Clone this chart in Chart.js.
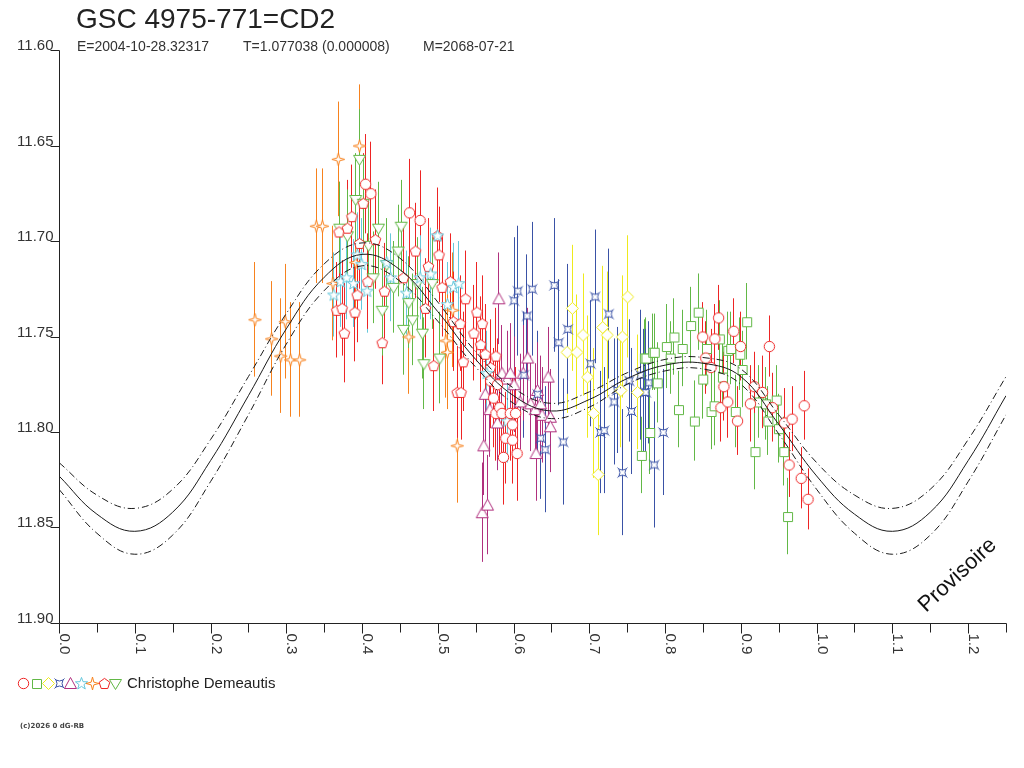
<!DOCTYPE html>
<html>
<head>
<meta charset="utf-8">
<title>GSC 4975-771=CD2</title>
<script src="https://cdn.jsdelivr.net/npm/chart.js@4.4.1/dist/chart.umd.min.js"></script>
<style>
  html, body { margin: 0; padding: 0; background: #fff; }
  #wrap { position: relative; width: 1024px; height: 768px; }
</style>
</head>
<body>
<div id="wrap"><canvas id="lc" width="1024" height="768"></canvas></div>
<script>
// --- textes ---
const titre = 'GSC 4975-771=CD2';
const sousTitre = ['E=2004-10-28.32317', 'T=1.077038 (0.000008)', 'M=2068-07-21'];
const observateur = 'Christophe Demeautis';
const copyright = '(c)2026 0 dG-RB';

// --- axes ---
const xTicks = [0, 0.05, 0.1, 0.15, 0.2, 0.25, 0.3, 0.35, 0.4, 0.45, 0.5, 0.55, 0.6,
                0.65, 0.7, 0.75, 0.8, 0.85, 0.9, 0.95, 1.0, 1.05, 1.1, 1.15, 1.2, 1.25];
const xLabels = ['0.0', '0.1', '0.2', '0.3', '0.4', '0.5', '0.6', '0.7', '0.8', '0.9', '1.0', '1.1', '1.2'];
const yTicks = [11.60, 11.65, 11.70, 11.75, 11.80, 11.85, 11.90];
const yLabels = ['11.60', '11.65', '11.70', '11.75', '11.80', '11.85', '11.90'];

// --- courbe ajustée (phase, magnitude) + enveloppe ---
const curvePhase = [0, 0.05, 0.1, 0.15, 0.2, 0.25, 0.3, 0.35, 0.4, 0.45, 0.5, 0.55, 0.6,
                    0.65, 0.7, 0.75, 0.8, 0.85, 0.9, 0.95, 1.0, 1.05, 1.1, 1.15, 1.2, 1.25];
const curveMag   = [11.823, 11.843, 11.852, 11.842, 11.815, 11.781, 11.746, 11.719, 11.707, 11.715, 11.737, 11.762, 11.781,
                    11.789, 11.783, 11.772, 11.765, 11.764, 11.771, 11.796, 11.823, 11.843, 11.852, 11.842, 11.815, 11.781];
const curveHaut  = [11.816, 11.833, 11.840, 11.830, 11.804, 11.771, 11.738, 11.712, 11.701, 11.709, 11.732, 11.758, 11.777,
                    11.785, 11.779, 11.769, 11.762, 11.761, 11.767, 11.791, 11.816, 11.833, 11.840, 11.830, 11.804, 11.771];
const curveBas   = [11.830, 11.853, 11.864, 11.854, 11.826, 11.791, 11.754, 11.726, 11.713, 11.721, 11.742, 11.766, 11.785,
                    11.793, 11.787, 11.775, 11.768, 11.767, 11.775, 11.801, 11.830, 11.853, 11.864, 11.854, 11.826, 11.791];

// --- mesures [phase, magnitude, erreur] ---
const redCircles = [
  [0.404, 11.670, 0.026], [0.411, 11.675, 0.027], [0.462, 11.685, 0.028], [0.476, 11.689, 0.026],
  [0.569, 11.773, 0.025], [0.573, 11.782, 0.026], [0.576, 11.790, 0.025], [0.578, 11.775, 0.024],
  [0.581, 11.787, 0.025], [0.584, 11.790, 0.024], [0.586, 11.813, 0.025], [0.589, 11.803, 0.024],
  [0.595, 11.790, 0.025], [0.598, 11.804, 0.023], [0.598, 11.796, 0.025], [0.602, 11.790, 0.024],
  [0.604, 11.811, 0.025],
  [0.849, 11.750, 0.018], [0.853, 11.761, 0.019], [0.860, 11.766, 0.020], [0.865, 11.751, 0.018],
  [0.870, 11.740, 0.017], [0.873, 11.787, 0.018], [0.877, 11.776, 0.018], [0.882, 11.784, 0.019],
  [0.890, 11.747, 0.017], [0.895, 11.794, 0.018], [0.899, 11.755, 0.018], [0.912, 11.785, 0.020],
  [0.917, 11.776, 0.018], [0.928, 11.779, 0.019], [0.937, 11.755, 0.016], [0.941, 11.787, 0.018],
  [0.957, 11.795, 0.018], [0.963, 11.817, 0.017], [0.967, 11.793, 0.017], [0.979, 11.824, 0.016],
  [0.983, 11.786, 0.018], [0.988, 11.835, 0.016]
];
const greenSquares = [
  [0.768, 11.812, 0.020], [0.772, 11.761, 0.020], [0.774, 11.761, 0.021], [0.779, 11.800, 0.022],
  [0.783, 11.758, 0.020], [0.785, 11.758, 0.020], [0.789, 11.774, 0.021], [0.801, 11.755, 0.022],
  [0.806, 11.761, 0.019], [0.811, 11.750, 0.020], [0.817, 11.788, 0.020], [0.822, 11.756, 0.020],
  [0.833, 11.744, 0.020], [0.838, 11.794, 0.021], [0.843, 11.737, 0.020], [0.849, 11.772, 0.021],
  [0.854, 11.756, 0.020], [0.860, 11.789, 0.020], [0.864, 11.786, 0.021], [0.871, 11.751, 0.020],
  [0.875, 11.771, 0.019], [0.882, 11.757, 0.020], [0.886, 11.756, 0.019], [0.892, 11.789, 0.019],
  [0.898, 11.759, 0.019], [0.901, 11.767, 0.020], [0.907, 11.742, 0.020], [0.918, 11.810, 0.020],
  [0.923, 11.784, 0.019], [0.932, 11.785, 0.019], [0.935, 11.794, 0.018], [0.946, 11.783, 0.018],
  [0.949, 11.798, 0.018], [0.956, 11.810, 0.018], [0.961, 11.844, 0.020]
];
const yellowDiamonds = [
  [0.670, 11.758, 0.032], [0.677, 11.735, 0.033], [0.683, 11.758, 0.030], [0.691, 11.749, 0.032],
  [0.697, 11.771, 0.032], [0.705, 11.790, 0.034], [0.711, 11.822, 0.032], [0.717, 11.745, 0.032],
  [0.723, 11.749, 0.033], [0.741, 11.778, 0.030], [0.743, 11.750, 0.032], [0.750, 11.729, 0.032],
  [0.763, 11.779, 0.030]
];
const blueStars = [
  [0.600, 11.731, 0.033], [0.605, 11.726, 0.034], [0.613, 11.770, 0.033], [0.617, 11.739, 0.032],
  [0.624, 11.725, 0.035], [0.631, 11.780, 0.033], [0.635, 11.803, 0.032], [0.641, 11.809, 0.033],
  [0.653, 11.723, 0.035], [0.659, 11.753, 0.033], [0.665, 11.805, 0.033], [0.671, 11.746, 0.034],
  [0.701, 11.764, 0.033], [0.707, 11.729, 0.035], [0.714, 11.800, 0.032], [0.719, 11.799, 0.033],
  [0.725, 11.738, 0.034], [0.732, 11.784, 0.033], [0.736, 11.778, 0.033], [0.743, 11.821, 0.033],
  [0.752, 11.773, 0.032], [0.755, 11.789, 0.033], [0.767, 11.770, 0.034], [0.771, 11.779, 0.033],
  [0.774, 11.779, 0.033], [0.778, 11.774, 0.032], [0.785, 11.817, 0.033], [0.797, 11.800, 0.033]
];
const purpleTriangles = [
  [0.558, 11.842, 0.026], [0.560, 11.807, 0.026], [0.562, 11.780, 0.025], [0.565, 11.838, 0.026],
  [0.568, 11.788, 0.025], [0.578, 11.795, 0.025], [0.580, 11.730, 0.024], [0.584, 11.769, 0.025],
  [0.591, 11.772, 0.025], [0.595, 11.769, 0.026], [0.600, 11.775, 0.025], [0.608, 11.784, 0.025],
  [0.612, 11.769, 0.025], [0.618, 11.761, 0.026], [0.622, 11.785, 0.025], [0.628, 11.788, 0.024],
  [0.629, 11.811, 0.025], [0.631, 11.778, 0.025], [0.635, 11.785, 0.025], [0.637, 11.791, 0.025],
  [0.645, 11.771, 0.026], [0.648, 11.792, 0.025], [0.648, 11.797, 0.024]
];
const cyanStars = [
  [0.362, 11.728, 0.022], [0.371, 11.721, 0.024], [0.379, 11.719, 0.022], [0.388, 11.722, 0.023],
  [0.393, 11.707, 0.022], [0.399, 11.712, 0.024], [0.406, 11.726, 0.022], [0.432, 11.711, 0.022],
  [0.437, 11.719, 0.023], [0.458, 11.727, 0.022], [0.476, 11.719, 0.022], [0.490, 11.717, 0.024],
  [0.499, 11.697, 0.022], [0.512, 11.733, 0.022], [0.520, 11.724, 0.023], [0.527, 11.722, 0.022],
  [0.564, 11.769, 0.022], [0.591, 11.794, 0.022]
];
const orangeStars = [
  [0.258, 11.741, 0.030], [0.280, 11.751, 0.030], [0.292, 11.760, 0.030], [0.298, 11.742, 0.030],
  [0.305, 11.762, 0.030], [0.317, 11.762, 0.030], [0.339, 11.692, 0.030], [0.347, 11.692, 0.030],
  [0.361, 11.722, 0.030], [0.368, 11.657, 0.030], [0.391, 11.711, 0.030], [0.396, 11.650, 0.032],
  [0.461, 11.750, 0.030], [0.510, 11.752, 0.030], [0.512, 11.758, 0.030], [0.519, 11.736, 0.030],
  [0.525, 11.807, 0.030]
];
const redPentagons = [
  [0.366, 11.736, 0.025], [0.369, 11.695, 0.026], [0.373, 11.735, 0.025], [0.376, 11.748, 0.026],
  [0.380, 11.693, 0.025], [0.386, 11.687, 0.027], [0.390, 11.737, 0.026], [0.393, 11.728, 0.025],
  [0.396, 11.701, 0.024], [0.401, 11.680, 0.026], [0.407, 11.721, 0.025], [0.417, 11.699, 0.026],
  [0.426, 11.753, 0.022], [0.429, 11.726, 0.025], [0.454, 11.719, 0.026], [0.470, 11.705, 0.025],
  [0.483, 11.735, 0.026], [0.487, 11.713, 0.025], [0.494, 11.765, 0.024], [0.499, 11.697, 0.025],
  [0.501, 11.707, 0.025], [0.505, 11.724, 0.026], [0.516, 11.721, 0.025], [0.520, 11.742, 0.026],
  [0.525, 11.779, 0.024], [0.529, 11.743, 0.025], [0.530, 11.779, 0.025], [0.533, 11.763, 0.026],
  [0.536, 11.730, 0.025], [0.547, 11.748, 0.025], [0.551, 11.737, 0.026], [0.556, 11.754, 0.025],
  [0.558, 11.743, 0.025], [0.562, 11.759, 0.026], [0.569, 11.766, 0.025], [0.576, 11.760, 0.025]
];
const greenDownTriangles = [
  [0.370, 11.693, 0.024], [0.380, 11.697, 0.024], [0.391, 11.678, 0.024], [0.396, 11.657, 0.026],
  [0.401, 11.680, 0.024], [0.408, 11.702, 0.024], [0.414, 11.719, 0.024], [0.421, 11.693, 0.024],
  [0.426, 11.736, 0.024], [0.432, 11.712, 0.024], [0.441, 11.724, 0.024], [0.447, 11.705, 0.024],
  [0.451, 11.692, 0.024], [0.454, 11.746, 0.024], [0.461, 11.732, 0.024], [0.466, 11.741, 0.024],
  [0.472, 11.722, 0.024], [0.479, 11.748, 0.024], [0.481, 11.764, 0.024], [0.492, 11.722, 0.024],
  [0.502, 11.761, 0.024]
];

const couleurs = {
  rouge: '#ee2424',
  vert: '#62b846',
  jaune: '#eeea1c',
  bleu: '#3a52a6',
  violet: '#b0307e',
  cyan: '#66c8dc',
  orange: '#f7821e'
};

// --- symboles dessinés dans de petits canvas ---
function symbole(forme, couleur) {
  const c = document.createElement('canvas');
  c.width = 16; c.height = 16;
  const g = c.getContext('2d');
  g.translate(8, 8);
  g.lineWidth = 1;
  g.strokeStyle = couleur;
  g.fillStyle = '#fff';
  g.beginPath();
  if (forme === 'cercle') {
    g.arc(0.5, 0.5, 5.2, 0, Math.PI * 2);
  } else if (forme === 'carre') {
    g.rect(-3.5, -3.5, 9, 9);
  } else if (forme === 'losange') {
    g.moveTo(0.5, -5.5); g.lineTo(6.5, 0.5); g.lineTo(0.5, 6.5); g.lineTo(-5.5, 0.5);
  } else if (forme === 'carreX') {
    g.moveTo(-3, -3); g.quadraticCurveTo(0.5, -1, 4, -3);
    g.quadraticCurveTo(2, 0.5, 4, 4);
    g.quadraticCurveTo(0.5, 2, -3, 4);
    g.quadraticCurveTo(-1, 0.5, -3, -3);
    g.moveTo(-3, -3); g.lineTo(-4.5, -4.5);
    g.moveTo(4, -3); g.lineTo(5.5, -4.5);
    g.moveTo(4, 4); g.lineTo(5.5, 5.5);
    g.moveTo(-3, 4); g.lineTo(-4.5, 5.5);
  } else if (forme === 'triangle') {
    g.moveTo(0.5, -5.5); g.lineTo(6.5, 5.5); g.lineTo(-5.5, 5.5);
  } else if (forme === 'triangleBas') {
    g.moveTo(-5.5, -3.5); g.lineTo(6.5, -3.5); g.lineTo(0.5, 6.5);
  } else if (forme === 'etoile5') {
    for (let i = 0; i < 10; i++) {
      const r = i % 2 ? 2.6 : 6.4;
      const a = -Math.PI / 2 + i * Math.PI / 5;
      const px = 0.5 + r * Math.cos(a), py = 0.8 + r * Math.sin(a);
      if (i === 0) g.moveTo(px, py); else g.lineTo(px, py);
    }
  } else if (forme === 'etoile4') {
    for (let i = 0; i < 8; i++) {
      const r = i % 2 ? 1.9 : 6.5;
      const a = -Math.PI / 2 + i * Math.PI / 4;
      const px = 0.5 + r * Math.cos(a), py = 0.5 + r * Math.sin(a);
      if (i === 0) g.moveTo(px, py); else g.lineTo(px, py);
    }
  } else if (forme === 'pentagone') {
    for (let i = 0; i < 5; i++) {
      const a = -Math.PI / 2 + i * 2 * Math.PI / 5;
      const px = 0.5 + 5.6 * Math.cos(a), py = 1 + 5.6 * Math.sin(a);
      if (i === 0) g.moveTo(px, py); else g.lineTo(px, py);
    }
  }
  if (forme !== 'carreX') g.closePath();
  g.fill();
  g.stroke();
  return c;
}

const series = [
  { pts: redCircles,         couleur: couleurs.rouge,  forme: 'cercle' },
  { pts: greenSquares,       couleur: couleurs.vert,   forme: 'carre' },
  { pts: yellowDiamonds,     couleur: couleurs.jaune,  forme: 'losange' },
  { pts: blueStars,          couleur: couleurs.bleu,   forme: 'carreX' },
  { pts: purpleTriangles,    couleur: couleurs.violet, forme: 'triangle' },
  { pts: cyanStars,          couleur: couleurs.cyan,   forme: 'etoile5' },
  { pts: orangeStars,        couleur: couleurs.orange, forme: 'etoile4' },
  { pts: redPentagons,       couleur: couleurs.rouge,  forme: 'pentagone' },
  { pts: greenDownTriangles, couleur: couleurs.vert,   forme: 'triangleBas' }
];
series.forEach(s => { s.img = symbole(s.forme, s.couleur); });

function ligne(mags, dash) {
  return {
    type: 'scatter',
    showLine: true,
    data: curvePhase.map((p, i) => ({ x: p, y: mags[i] })),
    borderColor: '#1a1a1a',
    borderWidth: 1,
    borderDash: dash,
    pointRadius: 0,
    tension: 0.4,
    fill: false
  };
}

const datasets = [
  ligne(curveMag, []),
  ligne(curveHaut, [7, 3, 1, 3]),
  ligne(curveBas, [7, 3, 1, 3])
];
series.forEach(s => {
  datasets.push({
    data: s.pts.map(p => ({ x: p[0], y: p[1] })),
    erreurs: s.pts.map(p => p[2]),
    couleurErr: s.couleur,
    pointStyle: s.img,
    pointRadius: 5,
    showLine: false
  });
});

// --- barres d'erreur, sous les symboles ---
const barresErreur = {
  id: 'barresErreur',
  beforeDatasetsDraw(chart) {
    const ctx = chart.ctx;
    const xs = chart.scales.x, ys = chart.scales.y;
    ctx.save();
    ctx.lineWidth = 1;
    chart.data.datasets.forEach(ds => {
      if (!ds.erreurs) return;
      ctx.strokeStyle = ds.couleurErr;
      ds.data.forEach((pt, i) => {
        const px = Math.round(xs.getPixelForValue(pt.x)) + 0.5;
        ctx.beginPath();
        ctx.moveTo(px, ys.getPixelForValue(pt.y - ds.erreurs[i]));
        ctx.lineTo(px, ys.getPixelForValue(pt.y + ds.erreurs[i]));
        ctx.stroke();
      });
    });
    ctx.restore();
  }
};

// --- axes, textes, légende ---
const habillage = {
  id: 'habillage',
  afterDraw(chart) {
    const ctx = chart.ctx;
    const xs = chart.scales.x, ys = chart.scales.y;
    const a = chart.chartArea;
    const gauche = Math.round(a.left) + 0.5;
    const bas = Math.round(a.bottom) + 0.5;
    ctx.save();
    ctx.strokeStyle = '#222';
    ctx.fillStyle = '#333';
    ctx.lineWidth = 1;

    // axe Y
    ctx.beginPath();
    ctx.moveTo(gauche, Math.round(ys.getPixelForValue(yTicks[0])) + 0.5);
    ctx.lineTo(gauche, bas);
    ctx.stroke();
    ctx.font = '15px "Liberation Sans", Arial, sans-serif';
    ctx.textAlign = 'right';
    ctx.textBaseline = 'alphabetic';
    yTicks.forEach((v, i) => {
      const py = Math.round(ys.getPixelForValue(v)) + 0.5;
      ctx.beginPath();
      ctx.moveTo(gauche - 9, py);
      ctx.lineTo(gauche, py);
      ctx.stroke();
      ctx.fillText(yLabels[i], gauche - 6, py - 1);
    });

    // axe X
    ctx.beginPath();
    ctx.moveTo(gauche, bas);
    ctx.lineTo(Math.round(a.right) + 0.5, bas);
    ctx.stroke();
    xTicks.forEach((v, i) => {
      const px = Math.round(xs.getPixelForValue(v)) + 0.5;
      ctx.beginPath();
      ctx.moveTo(px, bas);
      ctx.lineTo(px, bas + (i % 2 === 0 ? 10 : 9));
      ctx.stroke();
    });
    ctx.textAlign = 'left';
    xLabels.forEach((lab, i) => {
      const px = Math.round(xs.getPixelForValue(i * 0.1));
      ctx.save();
      ctx.translate(px + 1, bas + 10);
      ctx.rotate(Math.PI / 2);
      ctx.fillText(lab, 0, 0);
      ctx.restore();
    });

    // titre et sous-titre
    ctx.fillStyle = '#222';
    ctx.font = '28px "Liberation Sans", Arial, sans-serif';
    ctx.fillText(titre, 76, 28);
    ctx.fillStyle = '#333';
    ctx.font = '14px "Liberation Sans", Arial, sans-serif';
    ctx.fillText(sousTitre[0], 77, 51);
    ctx.fillText(sousTitre[1], 243, 51);
    ctx.fillText(sousTitre[2], 423, 51);

    // légende
    const lx = [23, 36, 48, 59, 70, 81, 92, 104, 115];
    series.forEach((s, i) => {
      ctx.drawImage(s.img, lx[i] - 8, 683 - 8);
    });
    ctx.fillStyle = '#222';
    ctx.font = '15px "Liberation Sans", Arial, sans-serif';
    ctx.fillText(observateur, 127, 688);

    // copyright
    ctx.fillStyle = '#444';
    ctx.font = 'bold 7px "DejaVu Sans", sans-serif';
    ctx.fillText(copyright, 20, 728);

    // mention provisoire
    ctx.save();
    ctx.translate(926, 613);
    ctx.rotate(-43 * Math.PI / 180);
    ctx.font = '22px "Liberation Sans", Arial, sans-serif';
    ctx.fillStyle = '#111';
    ctx.fillText('Provisoire', 0, 0);
    ctx.restore();

    ctx.restore();
  }
};

new Chart(document.getElementById('lc'), {
  type: 'scatter',
  data: { datasets: datasets },
  options: {
    responsive: false,
    animation: false,
    layout: { padding: { left: 59, right: 18, top: 50, bottom: 145 } },
    plugins: { legend: { display: false }, tooltip: { enabled: false } },
    scales: {
      x: { type: 'linear', min: 0, max: 1.25, display: false },
      y: { type: 'linear', min: 11.60, max: 11.90, reverse: true, display: false }
    }
  },
  plugins: [barresErreur, habillage]
});
</script>
</body>
</html>
